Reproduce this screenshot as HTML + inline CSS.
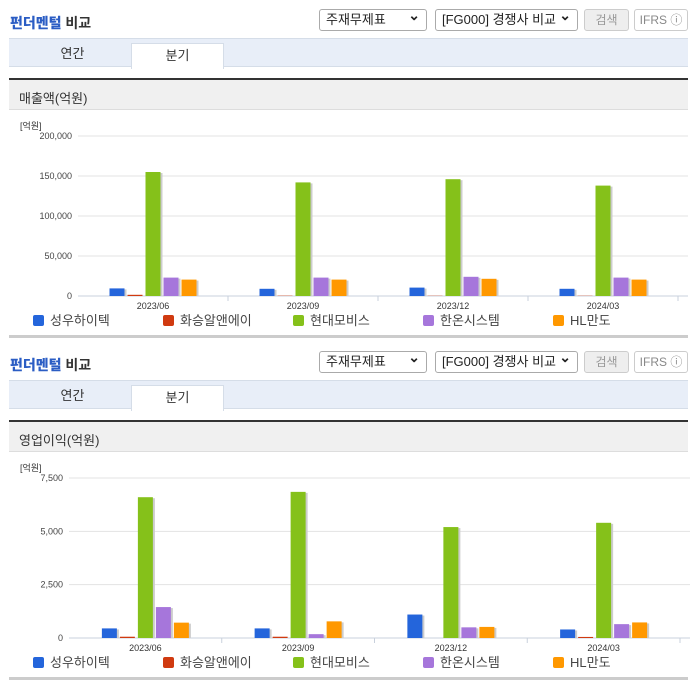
<!DOCTYPE html>
<html><head><meta charset="utf-8">
<style>
body{margin:0;width:696px;height:684px;background:#fff;font-family:"Liberation Sans","Noto Sans CJK KR",sans-serif;position:relative;overflow:hidden}
.abs{position:absolute}
.title{font-size:14px;font-weight:bold;color:#333}
.title b{color:#2b5dc4}
.sel{border:1px solid #aaa;border-radius:3px;height:22px;font-size:13px;color:#222;box-sizing:border-box;padding:0 6px;line-height:20px;background:#fff}
.sel:after{content:"⌄";position:absolute;right:6px;top:-5px;font-weight:bold;font-size:14px}
.btn{border:1px solid #ccc;border-radius:3px;height:22px;box-sizing:border-box;font-size:12px;color:#999;text-align:center;line-height:20px}
.tabs{left:9px;width:679px;height:29px;background:#e8eef8;border-top:1px solid #d5dde8;border-bottom:1px solid #d5dde8;box-sizing:border-box}
.tab{font-size:13px;color:#333;text-align:center;line-height:24px;height:25px}
.hdr{left:9px;width:679px;height:32px;background:#f0f0f0;border-top:2px solid #333;border-bottom:1px solid #ddd;box-sizing:border-box;font-size:13px;color:#333;padding:8px 0 0 10px}
.sep{left:9px;width:679px;height:3px;background:#ccc}
svg text{font-family:"Liberation Sans","Noto Sans CJK KR",sans-serif}
</style></head><body>

<div class="abs title" style="left:10px;top:13px"><b>펀더멘털</b> 비교</div>
<div class="abs sel" style="left:319px;top:9px;width:108px">주재무제표</div>
<div class="abs sel" style="left:435px;top:9px;width:143px">[FG000] 경쟁사 비교</div>
<div class="abs btn" style="left:584px;top:9px;width:45px;background:#eee">검색</div>
<div class="abs btn" style="left:634px;top:9px;width:54px;color:#888">IFRS ⓘ</div>
<div class="abs tabs" style="top:38px"></div>
<div class="abs tab" style="left:14px;top:42px;width:117px">연간</div>
<div class="abs tab" style="left:131px;top:43px;width:91px;background:#fff;border:1px solid #d5dde8;border-bottom:none">분기</div>
<div class="abs hdr" style="top:78px">매출액(억원)</div>
<svg class="abs" id="c1" style="left:0;top:110px" width="696" height="225"></svg>
<div class="abs sep" style="top:335px"></div>

<div class="abs title" style="left:10px;top:355px"><b>펀더멘털</b> 비교</div>
<div class="abs sel" style="left:319px;top:351px;width:108px">주재무제표</div>
<div class="abs sel" style="left:435px;top:351px;width:143px">[FG000] 경쟁사 비교</div>
<div class="abs btn" style="left:584px;top:351px;width:45px;background:#eee">검색</div>
<div class="abs btn" style="left:634px;top:351px;width:54px;color:#888">IFRS ⓘ</div>
<div class="abs tabs" style="top:380px"></div>
<div class="abs tab" style="left:14px;top:384px;width:117px">연간</div>
<div class="abs tab" style="left:131px;top:385px;width:91px;background:#fff;border:1px solid #d5dde8;border-bottom:none">분기</div>
<div class="abs hdr" style="top:420px">영업이익(억원)</div>
<svg class="abs" id="c2" style="left:0;top:452px" width="696" height="225"></svg>
<div class="abs sep" style="top:677px"></div>

<script>
const categories=["2023/06","2023/09","2023/12","2024/03"];
const companies=["성우하이텍","화승알앤에이","현대모비스","한온시스템","HL만도"];
const colors=["#2465db","#d03a10","#85c11a","#a676db","#ff9800"];
const revSungwoo=[9500,9000,10500,9000];
const revHwaseung=[1500,400,300,300];
const revMobis=[155000,142000,146000,138000];
const revHanon=[23000,23000,24000,23000];
const revHL=[20500,20500,21500,20500];
const revTicks=["0","50,000","100,000","150,000","200,000"];
const opSungwoo=[450,450,1100,400];
const opHwaseung=[60,60,0,50];
const opMobis=[6600,6850,5200,5400];
const opHanon=[1450,180,500,650];
const opHL=[720,780,520,730];
const opTicks=["0","2,500","5,000","7,500"];

const NS="http://www.w3.org/2000/svg";
function mk(svg,tag,attrs,txt){const e=document.createElementNS(NS,tag);for(const k in attrs)e.setAttribute(k,attrs[k]);if(txt!==undefined)e.textContent=txt;svg.appendChild(e);return e;}
function draw(id,series,ticks,maxV,x0,x1,yTop,yBot,legY,unitX){
  const svg=document.getElementById(id);
  const y=v=>yBot-(v/maxV)*(yBot-yTop);
  const step=(x1-x0)/categories.length;
  const cx=i=>x0+step*(i+0.5);
  const u=mk(svg,'text',{x:unitX,y:yTop-7,'font-size':9,fill:'#333'},'[억원]');
  
  
  ticks.forEach((t,i)=>{
    const v=maxV*i/(ticks.length-1);
    const g=mk(svg,'line',{x1:x0,x2:x1+10,y1:y(v),y2:y(v),stroke:i?'#e3e3e3':'#c8d0dc'});
    
    
    const tl=mk(svg,'text',{x:x0-6,y:y(v)+3,'font-size':9,fill:'#444','text-anchor':'end'},t);
    
    
  });
  categories.forEach((c,i)=>{
    const tk=mk(svg,'line',{x1:x0+step*(i+1),x2:x0+step*(i+1),y1:yBot,y2:yBot+5,stroke:'#c8d0dc'});
    
    
    const xl=mk(svg,'text',{x:cx(i),y:yBot+13,'font-size':9,fill:'#333','text-anchor':'middle'},c);
    
    
    series.forEach((s,j)=>{
      const v=s[i];const bx=cx(i)+(j-2)*18-7.5;
      if(v<=0)return;
      const sh=mk(svg,'rect',{x:bx+2,y:y(v)+1,width:15,height:yBot-y(v)-1,fill:'#ccc'});
      
      
      const b=mk(svg,'rect',{x:bx,y:y(v),width:15,height:yBot-y(v),fill:colors[j]});
      
      
    });
  });
  companies.forEach((n,j)=>{
    const lx=33+j*130;
    const r=mk(svg,'rect',{x:lx,y:legY-10,width:11,height:11,rx:2,fill:colors[j]});
    
    
    const t=mk(svg,'text',{x:lx+17,y:legY,'font-size':13,fill:'#444'},n);
    
    
  });
}
draw('c1',[revSungwoo,revHwaseung,revMobis,revHanon,revHL],revTicks,200000,78,678,26,186,215,20);
draw('c2',[opSungwoo,opHwaseung,opMobis,opHanon,opHL],opTicks,7500,69,680,26,186,215,20);
</script>
</body></html>
